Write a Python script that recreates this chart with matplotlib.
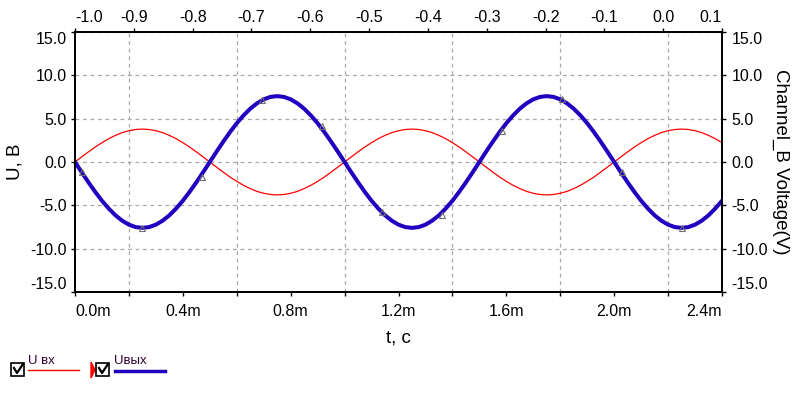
import matplotlib
matplotlib.use('Agg')
import matplotlib.pyplot as plt
from matplotlib.lines import Line2D
from matplotlib.patches import Rectangle, Polygon
from matplotlib.ticker import FixedLocator, FuncFormatter

plt.rcParams['font.family'] = ['Liberation Sans', 'DejaVu Sans']

# time samples, ms
timeMs = [0.000, 0.025, 0.050, 0.075, 0.100, 0.125, 0.150, 0.175, 0.200, 0.225,
          0.250, 0.275, 0.300, 0.325, 0.350, 0.375, 0.400, 0.425, 0.450, 0.475,
          0.500, 0.525, 0.550, 0.575, 0.600, 0.625, 0.650, 0.675, 0.700, 0.725,
          0.750, 0.775, 0.800, 0.825, 0.850, 0.875, 0.900, 0.925, 0.950, 0.975,
          1.000, 1.025, 1.050, 1.075, 1.100, 1.125, 1.150, 1.175, 1.200, 1.225,
          1.250, 1.275, 1.300, 1.325, 1.350, 1.375, 1.400, 1.425, 1.450, 1.475,
          1.500, 1.525, 1.550, 1.575, 1.600, 1.625, 1.650, 1.675, 1.700, 1.725,
          1.750, 1.775, 1.800, 1.825, 1.850, 1.875, 1.900, 1.925, 1.950, 1.975,
          2.000, 2.025, 2.050, 2.075, 2.100, 2.125, 2.150, 2.175, 2.200, 2.225,
          2.250, 2.275, 2.300, 2.325, 2.350, 2.375, 2.400]
# input voltage U вх, V
uIn = [0.00, 0.59, 1.17, 1.73, 2.23, 2.69, 3.07, 3.39, 3.61, 3.75,
       3.80, 3.75, 3.61, 3.39, 3.07, 2.69, 2.23, 1.73, 1.17, 0.59,
       0.00, -0.59, -1.17, -1.73, -2.23, -2.69, -3.07, -3.39, -3.61, -3.75,
       -3.80, -3.75, -3.61, -3.39, -3.07, -2.69, -2.23, -1.73, -1.17, -0.59,
       0.00, 0.59, 1.17, 1.73, 2.23, 2.69, 3.07, 3.39, 3.61, 3.75,
       3.80, 3.75, 3.61, 3.39, 3.07, 2.69, 2.23, 1.73, 1.17, 0.59,
       0.00, -0.59, -1.17, -1.73, -2.23, -2.69, -3.07, -3.39, -3.61, -3.75,
       -3.80, -3.75, -3.61, -3.39, -3.07, -2.69, -2.23, -1.73, -1.17, -0.59,
       0.00, 0.59, 1.17, 1.73, 2.23, 2.69, 3.07, 3.39, 3.61, 3.75,
       3.80, 3.75, 3.61, 3.39, 3.07, 2.69, 2.23]
# output voltage Uвых, V
uOut = [0.00, -1.19, -2.35, -3.45, -4.47, -5.37, -6.15, -6.77, -7.23, -7.51,
        -7.60, -7.51, -7.23, -6.77, -6.15, -5.37, -4.47, -3.45, -2.35, -1.19,
        0.00, 1.19, 2.35, 3.45, 4.47, 5.37, 6.15, 6.77, 7.23, 7.51,
        7.60, 7.51, 7.23, 6.77, 6.15, 5.37, 4.47, 3.45, 2.35, 1.19,
        0.00, -1.19, -2.35, -3.45, -4.47, -5.37, -6.15, -6.77, -7.23, -7.51,
        -7.60, -7.51, -7.23, -6.77, -6.15, -5.37, -4.47, -3.45, -2.35, -1.19,
        0.00, 1.19, 2.35, 3.45, 4.47, 5.37, 6.15, 6.77, 7.23, 7.51,
        7.60, 7.51, 7.23, 6.77, 6.15, 5.37, 4.47, 3.45, 2.35, 1.19,
        0.00, -1.19, -2.35, -3.45, -4.47, -5.37, -6.15, -6.77, -7.23, -7.51,
        -7.60, -7.51, -7.23, -6.77, -6.15, -5.37, -4.47]
# triangle markers on the output trace
markTimeMs = [0.025, 0.248, 0.470, 0.694, 0.915, 1.137, 1.360, 1.585, 1.807, 2.028, 2.250]
markVolts = [-1.1, -7.6, -1.7, 7.2, 4.1, -5.8, -6.1, 3.6, 7.3, -1.2, -7.6]

bottomTicks = [0.0, 0.4, 0.8, 1.2, 1.6, 2.0, 2.4]
gridTicks = [0.0, 0.2, 0.4, 0.6, 0.8, 1.0, 1.2, 1.4, 1.6, 1.8, 2.0, 2.2, 2.4]
topTicks = [-1.0, -0.9, -0.8, -0.7, -0.6, -0.5, -0.4, -0.3, -0.2, -0.1, 0.0, 0.1]
yTicks = [-15, -10, -5, 0, 5, 10, 15]

redColor = '#FF0000'
blueColor = '#2200C0'

fig = plt.figure(figsize=(7.95, 3.93), dpi=100)
ax = fig.add_axes([75 / 795, 101 / 393, 647 / 795, 260 / 393])

ax.plot(timeMs, uIn, color=redColor, lw=0.9, zorder=3)
ax.plot(timeMs, uOut, color=blueColor, lw=2.9, zorder=4)
ax.plot(markTimeMs, markVolts, ls='none', marker='^', ms=5, mfc='none',
        mec='#707070', mew=0.8, zorder=5)

ax.set_xlim(0, 2.4)
ax.set_ylim(-15, 15)
ax.xaxis.set_major_locator(FixedLocator(bottomTicks))
ax.xaxis.set_minor_locator(FixedLocator(gridTicks))
ax.xaxis.set_major_formatter(FuncFormatter(lambda v, p: f'{v:.1f}m'))
ax.yaxis.set_major_locator(FixedLocator(yTicks))
ax.yaxis.set_major_formatter(FuncFormatter(lambda v, p: f'{v:.1f}'))
ax.grid(True, which='minor', axis='x', color='#A8A8A8', ls=(0, (3, 3)), lw=0.9)
ax.grid(True, which='major', axis='y', color='#A8A8A8', ls=(0, (3, 3)), lw=0.9)
ax.tick_params(which='both', direction='out', length=3, width=1, labelsize=11.5, pad=3)
ax.tick_params(axis='x', which='both', pad=6)
for s in ax.spines.values():
    s.set_linewidth(1.2)

labels = ax.get_xticklabels()
labels[0].set_ha('left')
labels[-1].set_ha('right')
ylabels = ax.get_yticklabels()
ylabels[0].set_va('bottom')
ylabels[-1].set_va('top')

axTop = ax.twiny()
axTop.set_xlim(-1.0, 0.1)
axTop.xaxis.set_major_locator(FixedLocator(topTicks))
axTop.xaxis.set_major_formatter(FuncFormatter(lambda v, p: f'{v:.1f}'))
axTop.tick_params(direction='out', length=3, width=1, labelsize=11.5, pad=2)
tl = axTop.get_xticklabels()
tl[0].set_ha('left')
tl[-1].set_ha('right')

axRight = ax.twinx()
axRight.set_ylim(-15, 15)
axRight.yaxis.set_major_locator(FixedLocator(yTicks))
axRight.yaxis.set_major_formatter(FuncFormatter(lambda v, p: f'{v:.1f}'))
axRight.tick_params(direction='out', length=3, width=1, labelsize=11.5, pad=4)
rl = axRight.get_yticklabels()
rl[0].set_va('bottom')
rl[-1].set_va('top')
for a in (axTop, axRight):
    for s in a.spines.values():
        s.set_linewidth(1.2)

fig.text(15 / 795, 1 - 162 / 393, 'U, B', rotation=90, fontsize=13.5, ha='center', va='center')
fig.text(781 / 795, 1 - 162 / 393, 'Channel_B Voltage(V)', rotation=-90, fontsize=13.5,
         ha='center', va='center')
fig.text(398 / 795, 1 - 338 / 393, 't, c', fontsize=13.5, ha='center', va='center')

# legend with checkboxes
def fx(px):
    return px / 795

def fy(py):
    return 1 - py / 393

def checkBox(x0):
    fig.patches.append(Rectangle((fx(x0), fy(376)), 13 / 795, 13 / 393, transform=fig.transFigure,
                                 fill=False, ec='black', lw=1.2))
    fig.lines.append(Line2D([fx(x0 + 3), fx(x0 + 6), fx(x0 + 12)], [fy(368), fy(373), fy(364)],
                            transform=fig.transFigure, color='black', lw=1.6))

checkBox(11)
fig.text(fx(28), fy(361), 'U вх', fontsize=9.5, color='#300030', ha='left', va='center')
fig.lines.append(Line2D([fx(28), fx(79)], [fy(370), fy(370)], transform=fig.transFigure,
                        color=redColor, lw=1))
fig.patches.append(Polygon([(fx(91), fy(362)), (fx(91), fy(378)), (fx(95), fy(370))],
                           closed=True, transform=fig.transFigure, color=redColor))
checkBox(96)
fig.text(fx(114), fy(361), 'Uвых', fontsize=9.5, color='#300030', ha='left', va='center')
fig.lines.append(Line2D([fx(115), fx(165)], [fy(371), fy(371)], transform=fig.transFigure,
                        color=blueColor, lw=2.5))

fig.savefig('out.png', dpi=100)
